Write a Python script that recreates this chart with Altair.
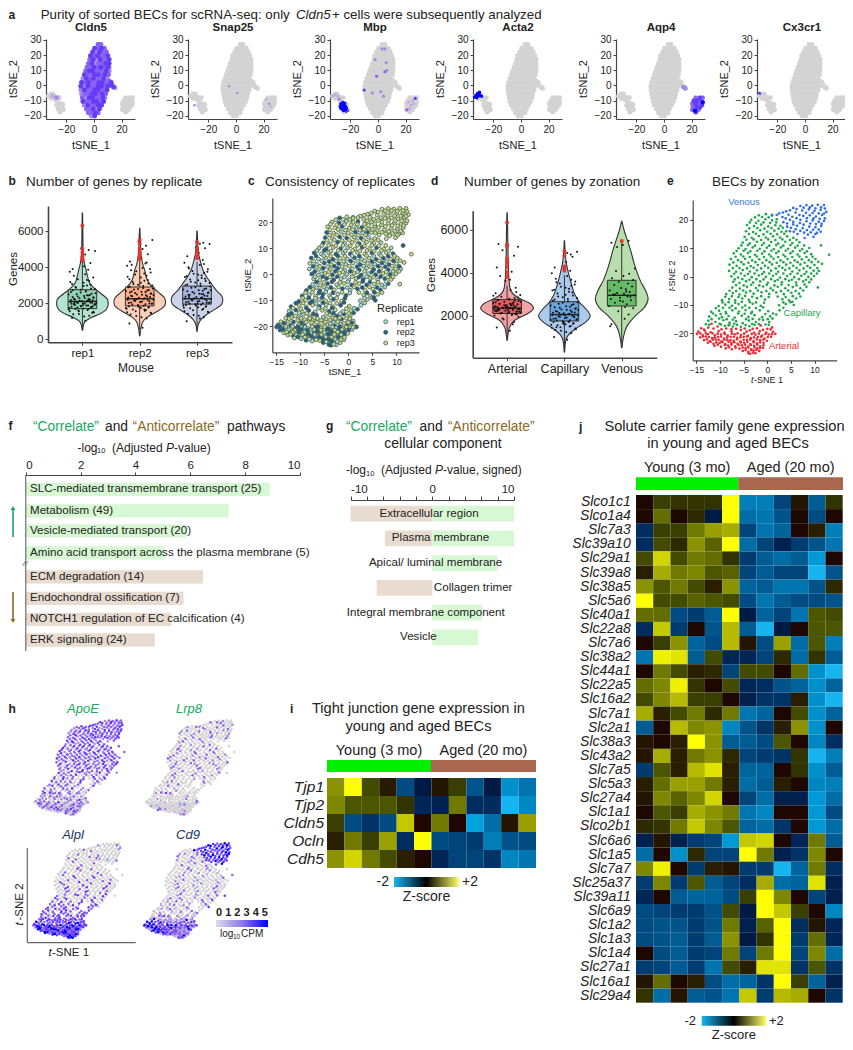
import altair as alt
import pandas as pd

W, H = 837, 1034
FONT = "Liberation Sans"
DARK = "#222222"
AXC = "#444444"
GREY = "#d3d3d3"
EXPR = ["#d3d3d3", "#0000ff"]
CORR = "#16a860"
ANTI = "#8a6a1d"
FBAR_G = "#d6f8d2"
FBAR_T = "#e8dbd0"

# ---------- panel a: shared t-SNE outline
A_ROWS = [
 (27, [3, 5]), (24.5, [0.5, 3, 5.5, 7.5]), (22, [-1, 1.5, 4, 6.5, 9]), (19.5, [-2.5, 0, 2.5, 5, 7.5, 10]),
 (17, [-3, -0.5, 2, 4.5, 7, 9.5, 11]), (14.5, [-4, -1.5, 1, 3.5, 6, 8.5, 11]), (12, [-5, -2.5, 0, 2.5, 5, 7.5, 10, 11]),
 (9.5, [-6, -3.5, -1, 1.5, 4, 6.5, 9, 11]), (7, [-7, -4.5, -2, 0.5, 3, 5.5, 8, 10.5]), (4.5, [-8, -5.5, -3, -0.5, 2, 4.5, 7, 9.5]),
 (2, [-9, -6.5, -4, -1.5, 1, 3.5, 6, 8.5, 10]), (-0.5, [-9.5, -7, -4.5, -2, 0.5, 3, 5.5, 8, 10]),
 (-3, [-9.5, -7, -4.5, -2, 0.5, 3, 5.5, 8, 9.5]), (-5.5, [-9, -6.5, -4, -1.5, 1, 3.5, 6, 8.5]),
 (-8, [-8.5, -6, -3.5, -1, 1.5, 4, 6.5, 8]), (-10.5, [-8, -5.5, -3, -0.5, 2, 4.5, 7]), (-13, [-7, -4.5, -2, 0.5, 3, 5.5]),
 (-15.5, [-5.5, -3, -0.5, 2, 4]), (-18, [-4, -1.5, 1, 3]), (-20, [-2, 0.5]),
]
A_TAIL = [(11, 3), (12, 1), (13, 0), (14, -1), (15, -1.2), (12.5, 2), (15.6, -2)]
A_LEFT = [(-33, -7), (-31, -5.5), (-29, -7), (-27, -8), (-31, -8.5), (-28, -9.5), (-25, -8), (-29.5, -5.5), (-26, -11), (-24, -12),
          (-27, -13), (-25, -14), (-23, -14), (-26, -15.5), (-24, -16), (-22, -16), (-24.5, -17.5), (-22.5, -12.5)]
A_RIGHT = [(23, -8), (26, -8), (28, -8), (21.5, -10), (24, -10), (26.5, -10), (28, -11), (20.5, -12), (23, -12), (25.5, -12), (27.5, -13),
           (21, -14), (23.5, -14), (26, -14.5), (20.5, -16), (22.5, -16.5), (25, -16), (23, -17.5)]
A_MAIN = [(x, y) for y, xs in A_ROWS for x in xs]
CLDN5_LEVELS = "3343434243343 4334342433 4342334433434 3423443334243 3443432434334 2434334433424 3344342433443 3423344343324 4334243 34434243 3443342 4334324 3344 243 3432 3423 4333"
A_GENES = ["Cldn5", "Snap25", "Mbp", "Acta2", "Aqp4", "Cx3cr1"]
A_X0 = [46, 188, 330, 473, 616, 757]
A_DOT = {"Cldn5": 24, "Snap25": 6, "Mbp": 10, "Acta2": 12, "Aqp4": 20, "Cx3cr1": 8}
A_EXTRA = {
 "Cldn5": [(-27, -8, 2), (-30, -7, 1)],
 "Snap25": [(-5, -0.5, 2), (1, -5, 2), (24, -12, 2), (22, -9, 1), (25, -14, 1), (-30, -13, 2)],
 "Mbp": [(-27, -12, 5), (-25.5, -11, 5), (-24, -11.5, 5), (-26.5, -13.5, 5), (-25, -13, 5), (-23.5, -13.5, 5), (-26, -15, 5), (-24.5, -15, 5), (-23, -15.5, 5),
         (-25, -16.5, 5), (-23, -17, 4), (-27, -15, 5), (-22, -16.5, 4), (-25.8, -12.2, 5), (-24.6, -12.4, 5), (-27.4, -13.8, 5), (-25.7, -14.2, 5), (-24.1, -14.3, 5), (-22.8, -14.6, 5), (-25.6, -15.8, 5), (-24, -16.2, 5),
         (-10, -3, 4), (3, 24, 2), (5, 24, 2), (-2, 17, 2), (6, 15, 2), (-1, 6, 3), (5, 9, 3),
         (6.5, 10, 2), (2, -4, 2), (-4, -5, 2), (4, -7, 2), (27, -8.5, 4), (21, -16, 3), (22, -11, 1), (24, -13, 1), (26, -12, 1), (23, -15, 1), (25, -10, 1),
         (-31, -6, 1), (-29, -7, 1), (-33, -7, 1), (-28, -9, 2)],
 "Acta2": [(-33.5, -7.5, 5), (-32.5, -6.5, 5), (-31.5, -5.5, 5), (-30.5, -5, 5), (-31, -7, 5), (-29.5, -6.5, 5), (-32, -8, 5), (-28.5, -7, 5), (-30, -4.5, 5)],
 "Aqp4": [(14, -1, 2), (15, -1.5, 2), (15.5, -2, 2)],
 "Cx3cr1": [(-33, -5, 4), (-32.5, -5.5, 3)],
}
AQP4_RIGHT = "343443534343443534"

# ---------- panels b, d: violins as (genes, half width)
V_REP1 = [(500, .004), (800, .02), (1000, .05), (1200, .15), (1400, .3), (1600, .4), (1800, .44), (2000, .45), (2200, .44), (2500, .34), (2800, .22), (3100, .13), (3500, .09), (3900, .06), (4300, .03), (5000, .012), (6000, .008), (7000, .003)]
V_REP2 = [(200, .004), (600, .02), (1000, .06), (1200, .12), (1500, .28), (1700, .38), (1900, .44), (2100, .45), (2300, .43), (2600, .33), (2900, .22), (3300, .13), (3800, .09), (4200, .05), (4800, .02), (5400, .012), (6150, .003)]
V_REP3 = [(450, .004), (800, .02), (1100, .07), (1400, .18), (1700, .33), (1950, .43), (2200, .45), (2450, .42), (2700, .34), (3000, .27), (3400, .18), (3800, .11), (4300, .06), (4800, .025), (5400, .012), (6000, .003)]
V_ART = [(850, .004), (1200, .02), (1500, .05), (1800, .14), (2050, .33), (2350, .46), (2600, .38), (2800, .22), (3000, .11), (3300, .05), (3800, .03), (4500, .02), (5300, .014), (6000, .01), (6800, .003)]
V_CAP = [(300, .004), (800, .02), (1100, .07), (1400, .2), (1700, .37), (2000, .45), (2300, .38), (2600, .27), (3000, .18), (3500, .12), (4000, .07), (4500, .03), (5000, .012), (5500, .003)]
V_VEN = [(500, .004), (1000, .03), (1500, .09), (2000, .24), (2400, .4), (2800, .46), (3200, .41), (3600, .33), (4000, .27), (4500, .21), (5000, .16), (5500, .1), (6000, .04), (6400, .003)]

J_OFFSETS = [-.18, .05, .12, -.06, .2, -.22, .09, -.12, .02, .16, -.19, -.03, .1, .22, -.15, .04, -.08, .14, -.21, .07, -.01, .18, -.13, .11, -.05, .2, -.17, .03, .13, -.1, .23, -.2, .06, -.03, .15, -.12, .08, -.18, .02, .12, -.08, .19, -.15, .05, -.22, .1, -.17, .03, .14, .05, .11, .22, -.02, -.24, .17, -.09, .24, -.14, .01, .08,
             .03, -.16, .19, -.07, .11, -.23, .15, -.02, .07, -.13, .21, -.19, .01, .17, -.1, .24, -.05, .09, -.2, .13, -.15, .04, .19, -.08, .1, -.24, .16, -.03, .06, -.17, .22, -.11, .02, .14, -.21, .08, -.06, .18, -.14, .12]
J_REP1 = [1180, 1020, 1300, 1410, 1490, 1560, 1620, 1680, 1710, 1760, 1810, 1850, 1880, 1920, 1950, 1980, 2010, 2040, 2070, 2100, 2130, 2160, 2190, 2230, 2270, 2310, 2350, 2400, 2450, 2500, 2560, 2620, 2680, 2750, 2820, 2900, 2980, 3060, 3140, 3230, 3330, 3420, 3520, 3610, 3750, 3850, 3900, 4050, 4230, 4700, 4950, 4900, 5050, 1650, 1470, 1760, 1990, 2240, 1900, 2440,
          1270, 1390, 1530, 1600, 1690, 1730, 1790, 1830, 1870, 1900, 1940, 1970, 2000, 2030, 2060, 2090, 2120, 2150, 2180, 2210, 2250, 2290, 2330, 2380, 2430, 2480, 2530, 2590, 2650, 2720, 2790, 2860, 2950, 3030, 3180, 3290, 1560, 1840, 2020, 2160]
J_REP2 = [880, 640, 1150, 1290, 1440, 1500, 1590, 1660, 1740, 1780, 1830, 1900, 1950, 1990, 2040, 2090, 2120, 2180, 2200, 2240, 2300, 2350, 2390, 2440, 2490, 2540, 2590, 2640, 2700, 2760, 2820, 2880, 2950, 3020, 3100, 3180, 3250, 3330, 3420, 3520, 3600, 3700, 3830, 3950, 4080, 4200, 4320, 4500, 4720, 5000, 5180, 5500, 5420, 1730, 1980, 2210, 2460, 2650, 2070, 1650,
          1220, 1370, 1470, 1550, 1620, 1700, 1760, 1810, 1860, 1930, 1970, 2020, 2060, 2110, 2150, 2190, 2220, 2270, 2320, 2370, 2410, 2470, 2520, 2570, 2620, 2680, 2740, 2790, 2850, 2920, 2990, 3060, 3140, 3290, 3470, 3650, 3780, 3900, 4130, 4260]
J_REP3 = [1000, 1150, 1240, 1350, 1480, 1560, 1640, 1720, 1780, 1840, 1900, 1950, 2000, 2040, 2080, 2130, 2170, 2220, 2260, 2300, 2350, 2400, 2450, 2500, 2550, 2600, 2660, 2720, 2790, 2860, 2930, 3000, 3080, 3150, 3230, 3310, 3400, 3490, 3580, 3680, 3790, 3880, 4000, 4120, 4250, 4400, 4600, 4800, 5050, 5300, 5350, 5280, 5100, 1880, 2030, 2180, 2720, 2350, 1990, 2510,
          1300, 1420, 1530, 1610, 1690, 1750, 1810, 1870, 1920, 1970, 2010, 2060, 2100, 2150, 2190, 2240, 2280, 2320, 2370, 2420, 2470, 2520, 2570, 2630, 2690, 2760, 2820, 2890, 2960, 3040, 3120, 3190, 3270, 3360, 3450, 3540, 3640, 3740, 3930, 4180]
J_ART = [1450, 1300, 1700, 1820, 1950, 2010, 2060, 2100, 2140, 2170, 2200, 2230, 2260, 2290, 2320, 2350, 2380, 2410, 2440, 2470, 2500, 2530, 2560, 2600, 2640, 2680, 2720, 2760, 2820, 2880, 2960, 3050, 3200, 3620, 3300, 3850, 4050, 4250, 4480, 4800, 5050, 5220, 5340, 3680, 2250, 2330, 2420, 2150, 2080, 2550, 2490, 2310, 2370, 2590, 2210, 2120, 2650, 2280, 2400, 2030,
         2190, 2240, 2300, 2340, 2360, 2390, 2430, 2460, 2510, 2540, 2180, 2220, 2270, 2050, 2110, 2160, 2480, 2570, 2620, 2700, 2740, 2790, 2850, 1880, 1600, 2930, 3100, 2450, 2350, 2260]
J_CAP = [1000, 880, 1180, 1290, 1360, 1430, 1490, 1550, 1600, 1650, 1700, 1740, 1790, 1830, 1870, 1910, 1950, 1990, 2030, 2070, 2110, 2150, 2190, 2240, 2290, 2340, 2390, 2440, 2500, 2560, 2630, 2700, 2780, 2860, 2940, 3030, 3120, 3210, 3300, 3400, 3500, 3600, 3720, 3850, 3980, 4100, 4250, 4500, 4750, 4930, 4850, 4980, 1620, 1810, 1960, 2120, 2260, 1460, 2020, 1720,
         1240, 1330, 1400, 1460, 1520, 1570, 1620, 1680, 1720, 1770, 1810, 1850, 1890, 1930, 1970, 2010, 2050, 2090, 2130, 2170, 2210, 2270, 2320, 2370, 2420, 2470, 2530, 2600, 2670, 2750, 2820, 2900, 2980, 3080, 3170, 3260, 3350, 3450, 3560, 3680]
J_VEN = [1600, 1850, 2050, 2200, 2350, 2450, 2530, 2600, 2660, 2720, 2780, 2840, 2900, 2940, 2980, 3020, 3060, 3110, 3170, 3230, 3290, 3360, 3430, 3500, 3580, 3660, 3750, 3850, 3960, 4080, 4200, 1500, 2400, 2700, 2880, 3000, 3130, 5400, 5300, 5500, 5200]
RED_REP1 = [6300, 5000, 4800, 4600, 4450, 4350]
RED_REP2 = [5500, 5300, 5000, 4800, 4600, 4450]
RED_REP3 = [5400, 5050, 4850, 4650, 4500]
RED_ART = [6350, 5300, 5250, 4650, 4500, 4300, 4000, 3800]
RED_CAP = [5000, 4800, 4300, 4200, 4100]
RED_VEN = [5480]

# ---------- panels c, e, h: t-SNE coordinates by zone
ART = [(-11.8,-16.6),(-1.4,-17.2),(1.0,-17.9),(-14,-18.2),(-11.4,-18.3),(-10.5,-17.6),(-3.1,-18.4),(-0.9,-18.8),(0.7,-18.6),
 (-14.6,-19.4),(-13.2,-19.1),(-12,-19.6),(-10.3,-19.2),(-9.1,-19.7),(-7.6,-19.3),(-4.4,-19.4),(-2.8,-19.8),(-1.6,-19.2),(-0.2,-19.7),(1.2,-19.5),
 (-14.9,-20.2),(-13.7,-20.6),(-12.6,-20.3),(-11.1,-20.7),(-9.8,-20.4),(-8.4,-20.8),(-6.9,-20.3),(-5.6,-20.6),(-4.1,-20.9),(-2.5,-20.5),(-1.1,-20.8),(0.3,-20.4),(1.7,-20.2),
 (-14.2,-21.4),(-13,-21.1),(-11.7,-21.7),(-10.4,-21.3),(-9.2,-21.8),(-7.8,-21.2),(-6.4,-21.6),(-5,-21.2),(-3.5,-21.7),(-2,-21.3),(-0.6,-21.8),(0.8,-21.2),
 (-13.4,-22.4),(-12.2,-22.7),(-10.9,-22.2),(-9.7,-22.8),(-8.5,-22.3),(-7.1,-22.6),(-5.7,-22.9),(-4.3,-22.3),(-2.9,-22.7),(-1.5,-22.4),(-0.1,-22.6),
 (-12.6,-23.3),(-11.4,-23.7),(-10.1,-23.4),(-8.9,-23.8),(-7.6,-23.4),(-6.3,-23.7),(-4.9,-23.3),(-3.6,-23.8),(-2.2,-23.5),(-0.8,-23.3),
 (-11.2,-24.4),(-9.8,-24.7),(-8.3,-24.3),(-6.8,-24.6),(-5.4,-24.2),(-4.1,-24.7),(-2.8,-24.4),(-1.5,-24.6),
 (-8.8,-25.3),(-7.5,-25.6),(-5.9,-25.4),(-4.6,-25.2),(-3.4,-25.6),(-2.1,-25.3),(-0.9,-25.1),
 (-5.2,-26.2),(-4,-26.5),(-2.9,-26.1),(-1.7,-26.2),(-3.6,-27.2),(-2.5,-27),
 (-13.4,-18.7),(-12.5,-18),(-9.7,-18.6),(-3.7,-18.9),(-2.2,-18.2),(0,-18.4),
 (-14.2,-20),(-13,-20),(-11.6,-20),(-10.5,-20.1),(-9,-20.2),(-7.5,-20.1),(-6.3,-20),(-4.9,-20.1),(-3.3,-20.2),(-1.8,-20.1),(-0.4,-20.2),(1,-20.3),
 (-13.6,-21.1),(-12.4,-21.3),(-11.1,-21.4),(-9.8,-21.1),(-8.5,-21.4),(-7.1,-21.2),(-5.7,-21.4),(-4.3,-21.1),(-2.8,-21.4),(-1.3,-21.2),(0.1,-21.3),
 (-12.8,-22.1),(-11.5,-22.2),(-10.3,-22.3),(-9.1,-22.2),(-7.8,-22.4),(-6.4,-22.1),(-5,-22.3),(-3.6,-22.2),(-2.2,-22.1),(-0.8,-22.2),
 (-12,-23),(-10.8,-23.2),(-9.5,-23.1),(-8.2,-23),(-7,-23.1),(-5.6,-23.2),(-4.2,-23),(-2.9,-23.1),(-1.5,-23.2),
 (-10.5,-24),(-9,-24.1),(-7.6,-24),(-6.1,-24.1),(-4.7,-24),(-3.5,-24.1),(-2.1,-24),(-0.8,-24.2),
 (-8.1,-24.9),(-6.7,-25.1),(-5.2,-25),(-4,-25),(-2.7,-25),(-1.5,-25.1),
 (-4.6,-25.9),(-3.4,-25.9),(-2.3,-25.8),(-4,-27),(-3,-26.8)]
CAP = [(-12.5,-15.6),(-11,-16),(-9.3,-15.4),(-8,-16.2),(-6.6,-15.7),(-5.2,-16.4),(-3.9,-15.5),(-2.4,-16),(-0.9,-15.3),(0.4,-16),
 (-12.3,-14.1),(-10.9,-13.7),(-9.6,-14.3),(-8.2,-13.9),(-6.9,-14.4),(-5.4,-13.8),(-4,-14.2),(-2.7,-13.6),(-1.1,-14.3),(0.6,-14),(1.9,-13.4),
 (-11.9,-12.4),(-10.2,-12),(-8.8,-12.5),(-7.4,-11.9),(-6,-12.3),(-4.6,-11.8),(-3.2,-12.4),(-1.6,-11.9),(0.2,-12.2),(2.6,-11.9),
 (-10.3,-10.4),(-8.9,-9.9),(-7.5,-10.3),(-6.1,-9.7),(-4.7,-10.2),(-3.1,-9.6),(-1.4,-10.3),(2.5,-10.1),(3.9,-9.7),(5.6,-10),
 (-9.6,-8.3),(-8.1,-7.9),(-6.8,-8.4),(-5.3,-7.7),(-3.9,-8.2),(-2.2,-7.6),(-0.5,-8.1),(3.2,-8),(4.6,-8.4),(6.1,-7.7),
 (-8.7,-6.2),(-7.3,-5.8),(-5.9,-6.3),(-4.5,-5.6),(-2.9,-6),(-1.2,-5.5),(0.4,-6.1),(1.9,-5.6),(3.5,-6.2),(5.1,-5.7),(6.7,-6),
 (-7.4,-3.9),(-5.8,-4.2),(-4.3,-3.6),(-2.4,-4),(-0.9,-3.5),(0.7,-4.1),(2.2,-3.6),(3.8,-4.1),(5.4,-3.7),(7,-4.1),(8.3,-3.6),
 (-7.2,-1.8),(-5.9,-2.2),(-4.5,-1.6),(-3,-2.1),(-1.5,-1.7),(0.1,-2.2),(1.6,-1.6),(3.1,-2),(4.6,-1.5),(6.1,-2.1),(7.6,-1.7),(8.9,-2),
 (-7.6,0.1),(-6.2,-0.3),(-4.8,0.3),(-3.3,-0.2),(-1.8,0.4),(-0.3,-0.1),(1.2,0.3),(2.7,-0.3),(4.2,0.2),(5.7,-0.2),(7.2,0.3),(8.7,-0.1),(9.9,0.2),
 (-8.1,2),(-6.6,1.7),(-5.2,2.3),(-3.7,1.8),(-2.2,2.2),(-0.7,1.6),(0.8,2.1),(2.3,1.7),(3.8,2.3),(5.3,1.8),(6.8,2.2),(8.3,1.7),(9.8,2.1),(10.9,2),
 (-8,4.2),(-6.5,3.8),(-5,4.3),(-3.5,3.7),(-2,4.1),(-0.5,3.8),(1,4.3),(2.5,3.7),(4,4.2),(5.5,3.8),(7,4.3),(8.5,3.7),(10,4.1),(11.6,4.5),
 (-7.7,6.2),(-6.2,5.8),(-4.7,6.3),(-3.2,5.7),(-1.7,6.1),(-0.2,5.8),(1.3,6.3),(2.8,5.7),(4.3,6.2),(5.8,5.7),(7.3,6.1),(8.8,5.8),(10.2,6.2),
 (-7.1,8.2),(-5.6,7.8),(-4.1,8.3),(-2.6,7.7),(-1.1,8.1),(0.4,7.8),(1.9,8.3),(3.4,7.7),(4.9,8.2),(6.4,7.8),(7.9,8.3),(9.3,7.9),
 (-6.1,10),(-4.6,9.7),(-3.1,10.3),(-1.6,9.8),(-0.1,10.2),(1.4,9.7),(2.9,10.3),(4.4,9.8),(5.9,10.2),(7.4,9.7),(8.9,10.1),
 (-5.2,12),(-3.7,11.7),(-2.2,12.3),(-0.7,11.8),(0.8,12.2),(2.3,11.7),(3.8,12.3),(5.3,11.8),(6.8,12.1),
 (-4.8,14),(-3.3,13.7),(-1.8,14.3),(-0.3,13.8),(1.2,14.2),(2.7,13.8),(4.2,14.2),(5.5,13.7),
 (-4.5,16),(-3,15.7),(-1.5,16.3),(0,15.8),(1.5,16.2),(3,15.8),(4,16),
 (-4.3,18.2),(-2.8,17.8),(-1.3,18.3),(0.2,17.7),(1.7,18.1),(2.8,17.9),
 (-3.4,20),(-1.9,19.7),(-0.4,20.2),(1,19.8),(2,20.2),
 (-1.8,21.6),(-0.3,22),(1,21.8),
 (13.1,7.7),(11.4,11),(10.7,-3.8),
 (-11.8,-15),(-10.2,-14.8),(-8.6,-15),(-7.3,-15.2),(-4.5,-15),(-3.1,-14.9),(-1.7,-15.1),(0.1,-15),(1.1,-14.8),
 (-11.5,-13),(-9.9,-13.2),(-8.7,-13),(-6.2,-13),(-4.8,-13.1),(-3.4,-12.9),(-0.4,-13.2),(1.2,-13),
 (-10.9,-11.1),(-9.4,-11),(-8,-11),(-6.7,-11.2),(-5.3,-10.9),(-3.8,-11),(-2.4,-11.1),(-0.9,-10.8),(3.4,-11),
 (-9.5,-9.1),(-8.2,-9),(-6.8,-9.2),(-5.4,-8.9),(-3.7,-9),(-2.4,-9.1),(-0.7,-9.2),(3.4,-9.1),(4.9,-9),(5.3,-8.9),
 (-8.9,-7.1),(-7.5,-6.9),(-6.1,-7.2),(-4.7,-6.8),(-3.2,-7.1),(-1.3,-6.9),(0.3,-7.2),(2.2,-7),(3.9,-7.2),(5.4,-6.9),(7,-7),
 (-8,-5),(-6.6,-5.1),(-5.1,-4.9),(-3.6,-5.1),(-2,-4.9),(-0.2,-5.1),(1.2,-4.8),(2.9,-5.1),(4.4,-4.9),(6,-5.1),(7.6,-4.9),
 (-6.6,-3),(-5,-3.1),(-3.4,-2.9),(-1.7,-3.1),(-0.1,-2.9),(1.5,-3.1),(3,-2.8),(4.5,-3),(6.2,-3.1),(7.9,-2.8),
 (-6.9,-1),(-5.3,-0.9),(-3.8,-1.1),(-2.3,-0.9),(-0.8,-1),(0.8,-0.9),(2.2,-1.1),(3.8,-0.9),(5.2,-1.1),(6.7,-0.9),(8.2,-1.1),(9.3,-1),
 (-7,1),(-5.6,1.1),(-4.1,0.9),(-2.7,1.1),(-1.1,0.9),(0.4,1.1),(1.9,0.9),(3.4,1.1),(4.9,0.9),(6.4,1.1),(7.9,0.9),(9.3,1.1),(10.5,1.1),
 (-7.3,3),(-5.9,3),(-4.3,2.9),(-2.9,3.1),(-1.3,2.9),(0.2,3.1),(1.8,2.9),(3.2,3.1),(4.7,2.9),(6.2,3.1),(7.7,2.9),(9.1,3.1),(10.6,3),
 (-7.2,5),(-5.5,5.1),(-4,4.9),(-2.5,5.1),(-1,4.9),(0.5,5.1),(2,4.9),(3.4,5.1),(4.9,4.9),(6.4,5.1),(7.9,4.9),(9.4,5.1),(10.8,5.2),
 (-6.7,7),(-5.1,7.1),(-3.7,6.9),(-2.2,7.1),(-0.7,6.9),(0.8,7.1),(2.3,6.9),(3.8,7.1),(5.3,6.9),(6.8,7.1),(8.3,6.9),(9.6,7),
 (-6.5,9),(-5,9.1),(-3.6,8.9),(-2.1,9.1),(-0.6,8.9),(0.9,9.1),(2.4,8.9),(3.9,9.1),(5.4,8.9),(6.9,9.1),(8.4,8.9),
 (-5.5,11),(-4.1,11.1),(-2.6,10.9),(-1.1,11.1),(0.4,10.9),(1.9,11.1),(3.4,10.9),(4.9,11.1),(6.4,10.9),(7.8,11),
 (-4.4,13),(-2.9,13.1),(-1.3,12.9),(0.2,13.1),(1.7,12.9),(3.2,13.1),(4.8,12.9),(6.2,13),
 (-3.9,15),(-2.4,15.1),(-0.8,14.9),(0.7,15.1),(2.1,14.9),(3.6,15.1),
 (-3.8,17),(-2.1,17.1),(-0.6,16.9),(0.9,17.1),(2.4,16.9),(3.3,17.2),
 (-3.7,19.1),(-2.4,18.9),(-0.8,19.1),(0.6,18.9),(1.9,19.1),
 (-2.6,20.9),(-1.1,21),(0.3,20.9)]
VEN = [(1,21.5),(2.5,22.3),(4,23),(5.5,24.2),(7,24.9),(8.3,25.2),(9.5,25),(10.7,25.3),(12,25.2),(12.2,24),
 (3.2,21),(4.5,21.8),(6,22.6),(7.4,23.3),(8.8,23.7),(10,23.2),(11.3,23.5),(12.5,22.8),
 (3.4,19.2),(4.8,20),(6.2,20.6),(7.6,21.4),(9,21.6),(10.3,21.2),(11.6,21.7),
 (4.2,17.6),(5.5,18.4),(6.9,18.9),(8.3,19.5),(9.6,19.8),(10.9,19.3),(12,19.6),
 (4.8,16),(6,16.7),(7.5,17.1),(8.9,17.6),(10.2,17.4),(11.4,17.8),
 (6.4,15),(7.8,15.5),(9.2,15.6),(10.5,15.4),(11.3,15.8),(7.9,13.6),(9.8,14),
 (2,21.7),(3.3,22.6),(4.8,23.4),(6.2,23.8),(7.7,24.3),(9,24.4),(10.2,24.1),(11.4,24.4),
 (3.9,20.5),(5.3,21.1),(6.8,21.7),(8.2,22.5),(9.6,22.4),(10.9,22.3),(12,22.2),
 (4.2,18.7),(5.5,19.3),(7,20),(8.4,20.6),(9.8,20.5),(11.1,20.4),(12.2,20.5),
 (5,17.2),(6.3,17.9),(7.7,18.3),(9.1,18.7),(10.3,18.5),(11.5,18.6),
 (5.6,15.8),(7,16.1),(8.4,16.4),(9.7,16.5),(10.9,16.6),(8.6,14.8),(10.2,15)]
GAP_CAP = [(-13,-16.8),(-12.3,-17),(-10.1,-16.6),(-9.8,-16.9),(-9,-17.4),(-8.2,-17.2),(-8,-16.9),(-7.3,-17.6),(-7,-16.6),(-6.4,-17),(-5.6,-17.7),(-4.6,-17.1),(-3.8,-17.5),(-3.2,-16.7),(-2.7,-17),(-1.8,-16.7),(-0.4,-16.9),(0.3,-17)]
GAP_ART = [(-8.7,-18.3),(-7.6,-18.5),(-6.6,-18.4),(-5.6,-18.8),(-4.8,-18.3)]
REPLICATE = ("3213231322123233212321323123213322132312322313213223132312321332123132231"
 "3213223123132123213323121323123321322132312332132123231321323123221323132"
 "2133212323132132231232132313223132132312321323132213231231323213212332132"
 "1323231213223132312321323132123231323213212323131232132312233213231213223"
 "3213212332132323213232312321323312322321323132123323123213223132321323213"
 "2332132312321233213232132132332123132232132313232123231322313232132132332"
 "1323213223132312332132232312132132312321323123132312")
H_EXPR = {
 "ApoE": ("2030210402030102030104020302013020301203020102304020103020130204020103020301020304020103 203010203040201302 0302010402030103020 302040103020403010 20304010203040102 0302010402 103020 30402010",
   "2030103020 30201030203 3020304020 3040303020 4030204032 30403020403 43304230403 324034403243 3042304330423 32403240324034 43324233403243 3243324234433 423342334234 432433423342 324342334 42334243 3243342 423342 32433 423 324 434 "
   "203010302 30201403 302040302 3040203042 30403240323 40323042043 4233042304 324234034023 4323240342304 3240342403423 4232403424032 342403424032 32403423042 4230432423 32403424 423432 342342 42342 342",
   "34342334342433423434233442334234342334243342334 34243342342334242343243423243342343",
   "203020302030203020 30203"),
 "Lrp8": ("0000200000001000000300000000200000010000000002000000100000020000003000000000100000200000 000300000100000020 000000030000000100 000200000003000010 00000200000300000",
   "0000000000 00000200000 0000100000 0000300000 0030000100 00200000300 03000200003 002000300020 0300003000200 00200300020003 30002000300200 0300020030002 002003000300 030002000300 002000300 30002000 0030002 002000 30002 030 002 343 "
   "000000000 00000030 000000200 0003000000 00200000300 03000200030 0020003000 003000200300 0200030002003 0300020003000 0020003000200 030002000300 20003000200 0030002000 02000300 300020 002000 30002 030",
   "00030020003000300200030000300200030002000300020 00300020003000200030002000300020003",
   "000000000000000200 00000"),
 "Alpl": ("4345344534353434453435345434353443534534354345343534435345343453435344534354345343534453 435344354345343534 4354345343534453443 534435344354345343 53443534435443534 4354435443 534354 43534453",
   "3403430343 43034340343 3430343034 4303403430 3040304030 03040030403 30004030040 003000400300 0040030000400 00300040000300 03000400003000 0000300040000 030000000300 000030000000 003000000 00000300 0300000 000030 00000 030 000 343 "
   "340343034 30343043 403430403 0403403040 30403004030 00304000304 0300040030 003000300040 0040003000300 0003000400030 0030000300004 000300000300 00003000003 0030000003 00000300 003000 000030 00000 030",
   "00020000003000000200000000300000020000000030000 00000300000020000000300000002000000",
   "343434343434343434 43434"),
 "Cd9": ("5545443322554443322155443322115444332215443322114433221443321143322143321332213221211221 554443322155544332 5544433221155443322 554433221155443322 44332211544332211",
   "1120101102 00201000203 1000102030 0020003004 1020002030 01002000304 00200010303 000200100030 0020001000300 00100020000300 00200010000200 0010002000003 000200001000 000030002000 003000200 00030002 0020003 003000 20030 003 040 343 "
   "201010201 02010203 100201003 0200100203 01002000303 00200100030 0200010003 002000100030 0010002000030 0002000100003 0020001000020 000200010002 00200010003 0002000300 00300020 030002 002000 30002 003",
   "54454345434543454345434453454345434543454344534 45434543454345434453454345434543454",
   "211212121212121212 32323"),
}

# ---------- panels f, g
F_LABELS = ["SLC-mediated transmembrane transport (25)", "Metabolism (49)", "Vesicle-mediated transport (20)", "Amino acid transport across the plasma membrane (5)",
            "ECM degradation (14)", "Endochondral ossification (7)", "NOTCH1 regulation of EC calcification (4)", "ERK signaling (24)"]
F_VALUES = [8.9, 7.4, 5.88, 5.07, 6.46, 5.75, 5.3, 4.7]
F_ROWS = [0, 1, 1.93, 2.95, 4.07, 5.07, 6.04, 7]
F_UP = [True, True, True, True, False, False, False, False]
G_LABELS = ["Extracellular region", "Plasma membrane", "Apical/ luminal membrane", "Collagen trimer", "Integral membrane component", "Vesicle"]
G_NEG = [-10, -5.8, 0, -6.8, 0, 0]
G_POS = [10, 10, 8, 0, 6.1, 5.6]
G_LABEL_POS = [-0.4, 1, 0.4, 5, -0.8, -1.7]

# ---------- panels i, j heat maps
I_GENES = ["Tjp1", "Tjp2", "Cldn5", "Ocln", "Cdh5"]
I_Z = [[1.2, 2, .6, .15, -.8, -.1, .1, .5, -.9, -.1, -1.6, -1.3],
       [1.1, .7, .7, .7, .4, -.3, -.2, 1.0, -.4, -.4, -2, -1.5],
       [.5, -.8, -.5, -.8, 1.6, 0, 1, 0, -1.8, -1.2, .1, 1.3],
       [.2, 1, .5, 1.3, -.4, 2, -.8, -.7, -.6, -1.4, -.9, -.8],
       [1.2, 1.7, 1, .6, .2, 0, -.3, -.7, -.7, -.5, -1.5, -1.3]]
J_GENES = ["Slco1c1", "Slco1a4", "Slc7a3", "Slc39a10", "Slc29a1", "Slc39a8", "Slc38a5", "Slc5a6", "Slc40a1", "Slc22a8", "Slc7a6", "Slc38a2", "Slc44a1", "Slc22a5", "Slc16a2", "Slc7a1", "Slc2a1", "Slc38a3", "Slc43a2", "Slc7a5", "Slc5a3", "Slc27a4", "Slc1a1", "Slco2b1", "Slc6a6", "Slc1a5", "Slc7a7", "Slc25a37", "Slc39a11", "Slc6a9", "Slc1a2", "Slc1a3", "Slc1a4", "Slc27a1", "Slc16a1", "Slc29a4"]
J_Z = [[0,.5,.4,.4,.4,2,-1.4,-1.4,-.7,.1,-1,.4],[0,.9,0,.3,-.1,2,-1.2,-1.3,-.9,0,-.8,0],[-.4,.5,.5,1,1.3,1.4,-.7,-1.3,-1.1,0,.2,-1.4],[-.4,.6,.3,1.2,.8,2,-1.2,-.7,-.2,-.6,-.9,-1.3],
 [.6,1.7,.6,1,.9,.4,-.6,-1,-1.2,-1,-1.7,0],[.2,1.4,1,1.1,.7,.8,-.7,-1,-.7,-.7,-2,-.9],[1.2,.7,1,.6,.2,1.2,-1.1,-1,-1.3,-1.3,-.9,.3],[2,.6,.6,.8,.7,.6,-.8,-1.3,-1,-.8,-.8,-.9],
 [.9,.9,-.8,-.6,-1,2,-.1,-1.1,-.7,-1.3,.7,.6],[-.4,1.6,-.6,0,-.9,1.5,-1,-2,-.1,0,.7,.7],[0,.5,1.2,-1.1,-.8,1.5,.1,-.8,1.3,-1.2,.7,-1.4],[-1.3,1.9,1.8,-1,.6,-.3,-.3,-.7,.3,-1.2,.4,-1],
 [0,1,.6,.2,.3,-.7,.6,.6,0,.9,-1.6,-2],[.9,1.1,1.9,.4,0,.6,-.3,-.4,-.9,-1.1,-1.6,-1.1],[.6,1.1,1.5,.5,.5,0,-.2,-.5,-.5,.2,-1.6,-2],[1.4,.2,.6,1,.3,1,-1.3,-1.1,0,.6,-1.6,-1.1],
 [-1,0,1.5,1.1,1.2,-1.5,-.9,-.5,.2,1.2,-1.6,0],[.1,0,.2,2,1.2,-1,-1,-.8,.7,0,-1.5,-.4],[.1,1.4,.2,1,1.2,.3,-.7,-.6,-.5,.4,-2,-1.4],[-.6,.7,.2,1.5,1.8,.2,-1.1,-1.1,0,.4,-1.6,-1],
 [.2,.9,1.3,1.3,1,.2,-1.2,-1,.2,0,-1.5,-1.4],[.1,1.1,.8,1.1,1.7,0,-.7,-1.2,-.2,-.2,-1.7,-1.2],[0,.7,.5,1.4,1.2,1,-1.3,-1.5,0,0,-1.7,-.8],[.3,.4,1,1.6,1.1,.7,-1.1,-1.2,-.5,0,-1.7,-1.2],
 [-.2,.1,-.2,-.6,-.7,-1.7,1.6,1.7,0,-.3,1,-1],[-1.2,0,-1.6,.3,-.7,-.7,2,1,-.2,-.5,1.1,0],[1.1,1.9,0,-.6,.2,.1,-.6,-.6,-2,-1.1,1,-.4],[-.6,1.1,-.6,.7,-1,-.7,-.4,1.4,-1.2,-1.1,1.8,-.2],
 [-.3,0,-1,-1.1,-1.1,-.8,.5,2,1.1,0,-.7,-.2],[-.8,-.7,-.6,-.6,-.9,.6,-.1,2,1.6,.5,0,-1.5],[-.8,-.9,-.9,-.6,-.9,1,-.2,.8,2,-.4,.1,-.3],[-.8,-.9,-1,-.6,-1,1.2,-.1,.4,2,-.6,.9,-.3],
 [0,-.8,-1,-.6,-.7,1,-.7,1,2,-.7,1.1,-1.2],[-.6,-.7,-1,-.6,-1.3,.6,.2,1.8,1.8,-.5,.7,-.5],[.1,.9,0,.2,-.8,-1.2,-1.1,-.5,2,.5,-1.1,-.2],[.4,-1.2,.1,-1,-.9,-1.3,1.6,-.6,1.5,1.4,0,-.5]]

layers = []
ONE = pd.DataFrame({"k": [0]})


def sc(domain, a, b):
    return alt.Scale(domain=domain, range=[a - 8, b - 8], nice=False, zero=False)


def txt(s, x, y, size=12, color=DARK, align="left", style="normal", weight="normal", angle=0):
    layers.append(alt.Chart(ONE).mark_text(text=s, font=FONT, fontSize=size, color=color, align=align, baseline="middle",
                                           fontStyle=style, fontWeight=weight, angle=angle)
                  .encode(x=alt.value(x - 8), y=alt.value(y - 8)))


def ax(orient, pos, values, size=10, tick=3, color=AXC, expr=None, width=1.2):
    off = {"bottom": pos - 8 - H, "left": -(pos - 8), "top": -(pos - 8)}[orient]
    kw = dict(labelExpr=expr) if expr else dict(format="d")
    return alt.Axis(orient=orient, offset=off, values=values, title=None, grid=False, labelFont=FONT, labelFontSize=size, labelColor=DARK,
                    tickSize=tick, tickColor=color, domainColor=color, domainWidth=width, tickWidth=1, labelPadding=2, labelOverlap=False, **kw)


def points(pts):
    return pd.DataFrame(pts, columns=["x", "y"])


def levels(s, n, pad="0"):
    s = s.replace(" ", "")
    return [int(c) for c in s.ljust(n, pad)[:n]]


# ---------- a
txt("a", 8.5, 15, 12, weight="bold")
txt("Purity of sorted BECs for scRNA-seq: only ", 40.7, 15, 13.3)
txt("Cldn5", 296, 15, 13.3, style="italic")
txt("+ cells were subsequently analyzed", 332, 15, 13.3)
for gene, x0 in zip(A_GENES, A_X0):
    xs = sc([-34.7, 29.7], x0, x0 + 89)
    ys = sc([-22, 30.5], 119, 39)
    base = points(A_MAIN + A_TAIL + A_LEFT + A_RIGHT)
    base["v"] = 0
    layers.append(alt.Chart(base).mark_circle(size=24, opacity=1, color=GREY).encode(
        x=alt.X("x:Q", scale=xs, axis=ax("bottom", 119, [-20, 0, 20])),
        y=alt.Y("y:Q", scale=ys, axis=ax("left", x0, [-20, -10, 0, 10, 20, 30]))))
    rows = list(A_EXTRA[gene])
    if gene == "Cldn5":
        rows += [(p[0], p[1], v) for p, v in zip(A_MAIN + A_TAIL[:6], levels(CLDN5_LEVELS, len(A_MAIN) + 6, "3"))]
    if gene == "Aqp4":
        rows += [(p[0], p[1], v) for p, v in zip(A_RIGHT, levels(AQP4_RIGHT, len(A_RIGHT), "3"))]
    hi = pd.DataFrame(rows, columns=["x", "y", "v"]).sort_values("v")
    layers.append(alt.Chart(hi).mark_circle(size=A_DOT[gene], opacity=1).encode(
        x=alt.X("x:Q", scale=xs, axis=None), y=alt.Y("y:Q", scale=ys, axis=None),
        color=alt.Color("v:Q", scale=alt.Scale(domain=[0, 5], range=EXPR), legend=None), order="v:Q"))
    txt(gene, x0 + 45, 28, 11.5, align="center", weight="bold")
    txt("tSNE_1", x0 + 45, 146, 11, align="center")
    txt("tSNE_2", x0 - 32, 79, 11, align="center", angle=270)


# ---------- violins
def violin(x0, x1, y0, y1, dom_y, dom_x, center_px_labels, series, label_size, yvals):
    first = True
    xs = sc(dom_x, x0, x1)
    ys = sc(dom_y, y1, y0)
    for i, (lab, v, jit, red, fill, boxc, q1, med, q3, lo, hi) in enumerate(series):
        c = i + 1
        df = pd.DataFrame(v, columns=["g", "w"])
        df["l"] = c - df["w"]
        df["r"] = c + df["w"]
        expr = "['','" + "','".join(center_px_labels) + "'][datum.value]"
        layers.append(alt.Chart(df).mark_area(orient="horizontal", color=fill, stroke="#333333", strokeWidth=1.1, interpolate="monotone").encode(
            y=alt.Y("g:Q", scale=ys, axis=ax("left", x0, yvals, size=label_size, tick=3, width=1.6) if first else None),
            x=alt.X("l:Q", scale=xs, axis=ax("bottom", y1, [1, 2, 3], size=label_size, tick=3, expr=expr, width=1.6) if first else None),
            x2="r:Q"))
        first = False
        whisk = pd.DataFrame({"c": [c], "a": [lo], "b": [hi]})
        layers.append(alt.Chart(whisk).mark_rule(color="#333333", strokeWidth=1).encode(
            x=alt.X("c:Q", scale=xs, axis=None), y=alt.Y("a:Q", scale=ys, axis=None), y2="b:Q"))
        box = pd.DataFrame({"l": [c - .25], "r": [c + .25], "a": [q1], "b": [q3]})
        layers.append(alt.Chart(box).mark_rect(color=boxc, stroke="#333333", strokeWidth=1).encode(
            x=alt.X("l:Q", scale=xs, axis=None), x2="r:Q", y=alt.Y("a:Q", scale=ys, axis=None), y2="b:Q"))
        medd = pd.DataFrame({"l": [c - .25], "r": [c + .25], "m": [med]})
        layers.append(alt.Chart(medd).mark_rule(color="#222222", strokeWidth=1.4).encode(
            x=alt.X("l:Q", scale=xs, axis=None), x2="r:Q", y=alt.Y("m:Q", scale=ys, axis=None)))
        jd = pd.DataFrame({"x": [c + o for o, _ in zip(J_OFFSETS, jit)], "g": jit[:len(J_OFFSETS)]})
        layers.append(alt.Chart(jd).mark_circle(size=4, color="#111111", opacity=1).encode(
            x=alt.X("x:Q", scale=xs, axis=None), y=alt.Y("g:Q", scale=ys, axis=None)))
        rd = pd.DataFrame({"x": [c] * len(red), "g": red})
        layers.append(alt.Chart(rd).mark_circle(size=16, color="#e8302a", opacity=.95).encode(
            x=alt.X("x:Q", scale=xs, axis=None), y=alt.Y("g:Q", scale=ys, axis=None)))


txt("b", 8.5, 181, 12, weight="bold")
txt("Number of genes by replicate", 26, 181.5, 13.5)
violin(48, 232, 206, 342.3, [-165, 7390], [0.4, 3.61], ["rep1", "rep2", "rep3"], [
    ("rep1", V_REP1, J_REP1, RED_REP1, "#b5e3d1", "#8fd0b8", 1700, 2100, 2750, 600, 4300),
    ("rep2", V_REP2, J_REP2, RED_REP2, "#fcd0b8", "#f9ac86", 1850, 2250, 2900, 500, 4400),
    ("rep3", V_REP3, J_REP3, RED_REP3, "#cbd3ea", "#a9b6dc", 1950, 2250, 2950, 600, 4300),
], 11.5, [0, 2000, 4000, 6000])
txt("Genes", 14, 269, 11.5, align="center", angle=270)
txt("Mouse", 136, 368, 12, align="center")

txt("d", 431, 181, 12, weight="bold")
txt("Number of genes by zonation", 464, 181.5, 13.5)
violin(472.7, 656.7, 210.7, 357.7, [37, 6900], [0.4, 3.61], ["Arterial", "Capillary", "Venous"], [
    ("Arterial", V_ART, J_ART, RED_ART, "#f4a3a5", "#ea5a5c", 2100, 2350, 2750, 1000, 3400),
    ("Capillary", V_CAP, J_CAP, RED_CAP, "#aacbee", "#6aa3dc", 1750, 2050, 2650, 500, 3900),
    ("Venous", V_VEN, J_VEN, RED_VEN, "#b7deac", "#66bb66", 2450, 2950, 3650, 700, 5500),
], 12.5, [2000, 4000, 6000])
txt("Genes", 432, 275, 11.5, align="center", angle=270)

# ---------- c
ALL_PTS = ART + CAP + VEN + GAP_CAP + GAP_ART
txt("c", 248, 181, 12, weight="bold")
txt("Consistency of replicates", 265, 181.5, 13.5)
cdf = points(ALL_PTS)
cdf["rep"] = levels(REPLICATE, len(ALL_PTS), "3")
REP_COLORS = ["#a6d9cc", "#1f5f8b", "#cbd98c"]
layers.append(alt.Chart(cdf).mark_point(size=15, filled=True, stroke="#46604f", strokeWidth=0.8, opacity=1).encode(
    x=alt.X("x:Q", scale=sc([-15.8, 14.7], 272.3, 419), axis=ax("bottom", 352.3, [-15, -10, -5, 0, 5, 10], size=8.5, width=1.2)),
    y=alt.Y("y:Q", scale=sc([-29.9, 29.2], 352.3, 198), axis=ax("left", 272.3, [-20, -10, 0, 10, 20], size=8.5, width=1.2)),
    fill=alt.Fill("rep:N", scale=alt.Scale(domain=[1, 2, 3], range=REP_COLORS), legend=None)))
txt("tSNE_2", 248, 275, 9.5, align="center", angle=270)
txt("tSNE_1", 345, 372, 9.5, align="center")
txt("Replicate", 377, 309, 11)
for lab, col, yy in zip(["rep1", "rep2", "rep3"], REP_COLORS, [321.7, 332.3, 343]):
    layers.append(alt.Chart(ONE).mark_point(size=16, filled=True, fill=col, stroke="#46604f", strokeWidth=0.8, opacity=1).encode(
        x=alt.value(385.7 - 8), y=alt.value(yy - 8)))
    txt(lab, 396.7, yy, 9)

# ---------- e
txt("e", 667, 181, 12, weight="bold")
txt("BECs by zonation", 712, 181.5, 13.5)
xe = sc([-15.8, 14.7], 692.7, 836.7)
ye = sc([-29.5, 27], 360.3, 200)
first = True
for pts, col in [(CAP + GAP_CAP, "#1fa84a"), (VEN, "#2f6fe0"), (ART + GAP_ART, "#ea2d34")]:
    layers.append(alt.Chart(points(pts)).mark_circle(size=7, color=col, opacity=1).encode(
        x=alt.X("x:Q", scale=xe, axis=ax("bottom", 360.3, [-15, -10, -5, 0, 5, 10], size=8.5, width=1.2) if first else None),
        y=alt.Y("y:Q", scale=ye, axis=ax("left", 692.7, [-20, -10, 0, 10, 20], size=8.5, width=1.2) if first else None)))
    first = False
txt("Venous", 744, 202, 9.5, "#3b78d8", "center")
txt("Capillary", 802, 312.7, 9.5, "#1fa84a", "center")
txt("Arterial", 784, 346, 9.5, "#ea2d34", "center")
txt("t", 672, 290, 9, align="center", style="italic", angle=270)
txt("-SNE 2", 672, 275, 9, align="center", angle=270)
txt("t", 751, 380, 9, style="italic")
txt("-SNE 1", 754, 380, 9)

# ---------- f
txt("f", 8.5, 426, 12, weight="bold")
txt("\u201cCorrelate\u201d", 33, 426.7, 13.8, CORR)
txt("and", 105, 426.7, 13.8)
txt("\u201cAnticorrelate\u201d", 132.6, 426.7, 13.8, ANTI)
txt("pathways", 227, 426.7, 13.8)
txt("-log", 77.5, 447.7, 12)
txt("10", 97, 451, 7.5)
txt("(Adjusted ", 112, 447.7, 12)
txt("P", 166, 447.7, 12, style="italic")
txt("-value)", 174, 447.7, 12)
fdf = pd.DataFrame({"label": F_LABELS, "v": F_VALUES, "r": F_ROWS, "up": F_UP})
fdf["z"] = 0
fdf["a"] = fdf["r"] - 0.31
fdf["b"] = fdf["r"] + 0.31
xf = sc([0, 10], 25.8, 300)
yf = sc([0, 7], 489.3, 640)
layers.append(alt.Chart(fdf).mark_rect().encode(
    x=alt.X("z:Q", scale=xf, axis=ax("top", 475, [0, 2, 4, 6, 8, 10], size=11.5, width=1.2, tick=3)),
    x2="v:Q", y=alt.Y("a:Q", scale=yf, axis=None), y2="b:Q",
    color=alt.Color("up:N", scale=alt.Scale(domain=[True, False], range=[FBAR_G, FBAR_T]), legend=None)))
layers.append(alt.Chart(fdf).mark_text(font=FONT, fontSize=11.6, color=DARK, align="left", baseline="middle").encode(
    x=alt.value(30 - 8), y=alt.Y("r:Q", scale=yf, axis=None), text="label:N"))
layers.append(alt.Chart(ONE).mark_rule(color="#555555", strokeWidth=1).encode(x=alt.value(25.8 - 8), y=alt.value(475 - 8), y2=alt.value(651 - 8)))
txt("//", 25, 564, 8, "#444444", "center", "italic")
layers.append(alt.Chart(ONE).mark_rule(color=CORR, strokeWidth=1.6).encode(x=alt.value(13 - 8), y=alt.value(509 - 8), y2=alt.value(537 - 8)))
layers.append(alt.Chart(ONE).mark_point(shape="triangle-up", filled=True, size=22, color=CORR, opacity=1).encode(x=alt.value(13 - 8), y=alt.value(508 - 8)))
layers.append(alt.Chart(ONE).mark_rule(color=ANTI, strokeWidth=1.6).encode(x=alt.value(13 - 8), y=alt.value(592 - 8), y2=alt.value(620 - 8)))
layers.append(alt.Chart(ONE).mark_point(shape="triangle-down", filled=True, size=22, color=ANTI, opacity=1).encode(x=alt.value(13 - 8), y=alt.value(621 - 8)))

# ---------- g
txt("g", 326, 426, 12, weight="bold")
txt("\u201cCorrelate\u201d", 346, 426.7, 13.8, CORR)
txt("and", 419.6, 426.7, 13.8)
txt("\u201cAnticorrelate\u201d", 448, 426.7, 13.8, ANTI)
txt("cellular component", 443, 444.3, 14, align="center")
txt("-log", 346, 470, 12)
txt("10", 366, 473.5, 7.5)
txt("(Adjusted ", 381, 470, 12)
txt("P", 435, 470, 12, style="italic")
txt("-value, signed)", 443, 470, 12)
gdf = pd.DataFrame({"label": G_LABELS, "n": G_NEG, "p": G_POS, "lp": G_LABEL_POS, "z": [0] * 6, "r": list(range(6))})
gdf["a"] = gdf["r"] - 0.32
gdf["b"] = gdf["r"] + 0.32
xg = sc([-10, 10], 350.6, 514)
yg = sc([0, 5], 513.7, 637.3)
layers.append(alt.Chart(gdf).mark_rect(color=FBAR_T).encode(
    x=alt.X("n:Q", scale=xg, axis=ax("top", 500, [-10, -8, -6, -4, -2, 0, 2, 4, 6, 8, 10], size=11.5, tick=4, width=1.2,
                                     expr="abs(datum.value)==10 || datum.value==0 ? datum.value : ''")),
    x2="z:Q", y=alt.Y("a:Q", scale=yg, axis=None), y2="b:Q"))
layers.append(alt.Chart(gdf).mark_rect(color=FBAR_G).encode(
    x=alt.X("z:Q", scale=xg, axis=None), x2="p:Q", y=alt.Y("a:Q", scale=yg, axis=None), y2="b:Q"))
layers.append(alt.Chart(gdf).mark_text(font=FONT, fontSize=11.6, color=DARK, align="center", baseline="middle").encode(
    x=alt.X("lp:Q", scale=xg, axis=None), y=alt.Y("r:Q", scale=yg, axis=None), text="label:N"))

# ---------- h
txt("h", 8.5, 709, 12, weight="bold")
H_BOX = {"ApoE": (34.5, 124, 720, 815, 83, 709, CORR), "Lrp8": (146, 234, 720, 815, 189, 709, CORR),
         "Alpl": (33, 122, 843, 938, 73, 835, "#1a3560"), "Cd9": (144, 232, 843, 938, 188, 835, "#1a3560")}
for gene, (a, b, c, d, tx, ty, col) in H_BOX.items():
    e = H_EXPR[gene]
    vals = levels(e[0], len(ART)) + levels(e[1], len(CAP)) + levels(e[2], len(VEN)) + levels(e[3], len(GAP_CAP) + len(GAP_ART))
    df = points(ALL_PTS)
    df["v"] = vals
    df = df.sort_values("v")
    layers.append(alt.Chart(df).mark_circle(size=6.5, opacity=1).encode(
        x=alt.X("x:Q", scale=sc([-15, 13], a, b), axis=None),
        y=alt.Y("y:Q", scale=sc([-27.2, 25.5], d, c), axis=None),
        color=alt.Color("v:Q", scale=alt.Scale(domain=[0, 5], range=EXPR), legend=None), order="v:Q"))
    txt(gene, tx, ty, 13, col, "center", "italic")
layers.append(alt.Chart(ONE).mark_rule(color="#666666", strokeWidth=1.2).encode(x=alt.value(27.3 - 8), y=alt.value(848 - 8), y2=alt.value(942.7 - 8)))
layers.append(alt.Chart(ONE).mark_rule(color="#666666", strokeWidth=1.2).encode(x=alt.value(27.3 - 8), x2=alt.value(135.7 - 8), y=alt.value(942.7 - 8)))
txt("t", 20, 924, 11.5, align="center", style="italic", angle=270)
txt("-SNE 2", 20, 902, 11.5, align="center", angle=270)
txt("t", 48.5, 953, 11.5, style="italic")
txt("-SNE 1", 52, 953, 11.5)
txt("0 1 2 3 4 5", 242, 913, 11, align="center", weight="bold")
layers.append(alt.Chart(ONE).mark_rect(color=alt.Gradient(gradient="linear", x1=0, x2=1, y1=0, y2=0,
    stops=[alt.GradientStop(color="#e0dcea", offset=0), alt.GradientStop(color="#8e78e8", offset=.5), alt.GradientStop(color="#0000ff", offset=1)])).encode(
    x=alt.value(216 - 8), x2=alt.value(268 - 8), y=alt.value(920 - 8), y2=alt.value(927 - 8)))
txt("log", 220, 934, 10)
txt("10", 233, 936.5, 6.5)
txt("CPM", 241, 934, 10)


# ---------- heat maps
def heat(genes, z, x0, x1, y0, y1, label_x, label_size):
    rows = [dict(gene=g, r=i, c=j, v=v, r2=i + 1, c2=j + 1) for i, (g, vals) in enumerate(zip(genes, z)) for j, v in enumerate(vals)]
    xs = sc([0, 12], x0, x1)
    ys = sc([0, len(genes)], y0, y1)
    layers.append(alt.Chart(pd.DataFrame(rows)).mark_rect().encode(
        x=alt.X("c:Q", scale=xs, axis=None), x2="c2:Q", y=alt.Y("r:Q", scale=ys, axis=None), y2="r2:Q",
        color=alt.Color("v:Q", scale=alt.Scale(domain=[-2, 0, 2], range=["#17b4f2", "#000000", "#ffff00"]), legend=None)))
    lab = pd.DataFrame({"gene": genes, "m": [i + .5 for i in range(len(genes))]})
    layers.append(alt.Chart(lab).mark_text(font=FONT, fontSize=label_size, fontStyle="italic", color=DARK, align="right", baseline="middle").encode(
        x=alt.value(label_x - 8), y=alt.Y("m:Q", scale=ys, axis=None), text="gene:N"))


def band(x0, xm, x1, y0, y1, ly, size):
    for a, b, col, s in [(x0, xm, "#00f000", "Young (3 mo)"), (xm, x1, "#a9674e", "Aged (20 mo)")]:
        layers.append(alt.Chart(ONE).mark_rect(color=col).encode(x=alt.value(a - 8), x2=alt.value(b - 8), y=alt.value(y0 - 8), y2=alt.value(y1 - 8)))
        txt(s, (a + b) / 2, ly, size, align="center")


def zbar(x0, x1, y0, y1, lx, rx, ty, size):
    layers.append(alt.Chart(ONE).mark_rect(color=alt.Gradient(gradient="linear", x1=0, x2=1, y1=0, y2=0,
        stops=[alt.GradientStop(color="#17b4f2", offset=0), alt.GradientStop(color="#000000", offset=.5), alt.GradientStop(color="#ffff66", offset=1)])).encode(
        x=alt.value(x0 - 8), x2=alt.value(x1 - 8), y=alt.value(y0 - 8), y2=alt.value(y1 - 8)))
    txt("-2", lx, (y0 + y1) / 2, size, align="right")
    txt("+2", rx, (y0 + y1) / 2, size)
    txt("Z-score", (x0 + x1) / 2, ty, size, align="center")


txt("i", 290, 709, 12, weight="bold")
txt("Tight junction gene expression in", 418.4, 709, 14.6, align="center")
txt("young and aged BECs", 418.4, 727, 14.6, align="center")
band(327, 431, 536, 760, 772, 751, 14.5)
heat(I_GENES, I_Z, 327, 536, 778, 868, 324, 15.5)
zbar(394, 459, 877, 887, 389, 462, 897, 14)

txt("j", 579, 427, 12, weight="bold")
txt("Solute carrier family gene expression", 724.5, 427, 14.6, align="center")
txt("in young and aged BECs", 728, 444, 14.6, align="center")
band(636, 738.3, 843, 477.3, 490, 468, 14.5)
heat(J_GENES, J_Z, 636, 842.7, 495, 1002.7, 630.7, 14)
zbar(701.7, 766, 1016, 1025.7, 696, 769, 1034.5, 13)

chart = alt.layer(*layers).resolve_scale(
    x="independent", y="independent", color="independent", fill="independent"
).properties(
    width=W, height=H, padding=0, autosize=alt.AutoSizeParams(type="none"), background="white"
).configure_view(stroke=None)

chart.save("out.html", embed_options={"renderer": "svg", "actions": False})
